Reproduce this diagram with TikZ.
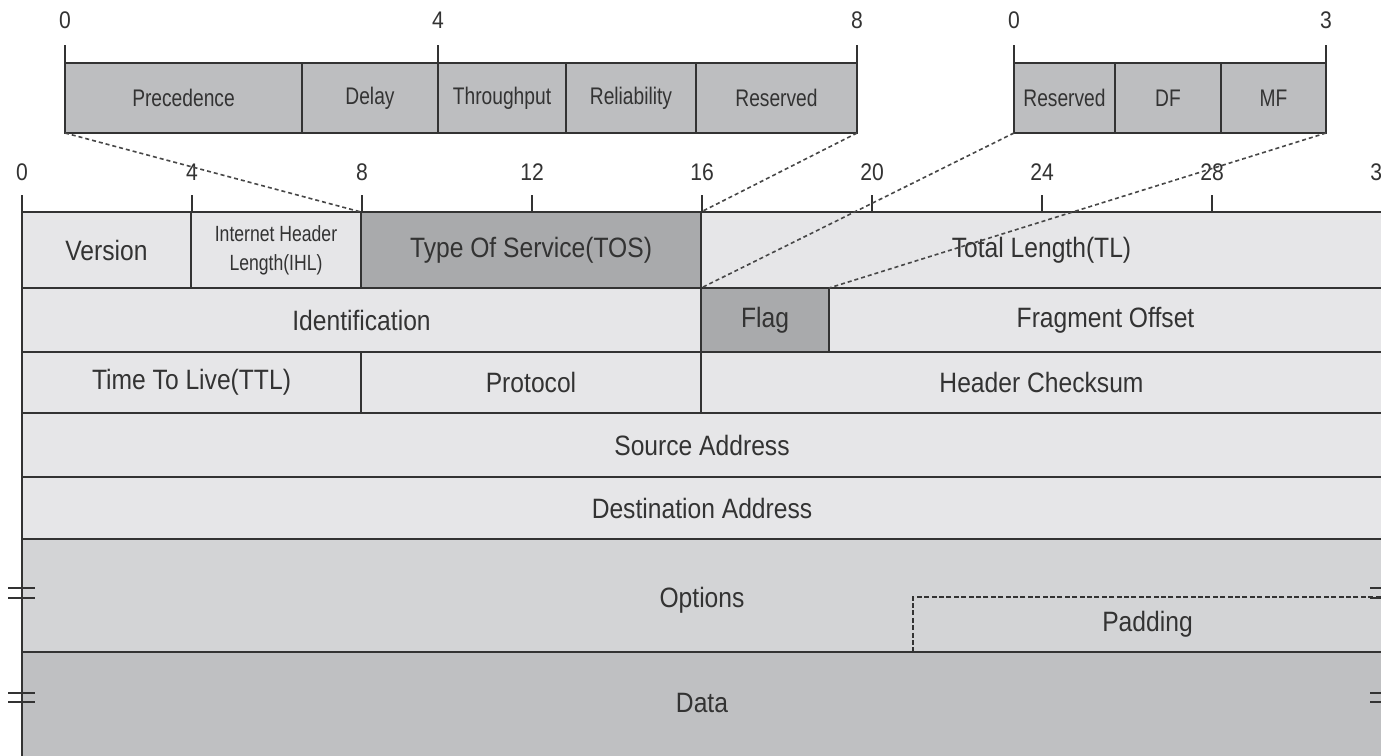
\documentclass[tikz,border=0pt]{standalone}
\usepackage{fontspec}
\setmainfont{Liberation Sans}[FakeStretch=0.88]
\newfontfamily\narrowfont{Liberation Sans}[FakeStretch=0.8]
\definecolor{rowlight}{HTML}{E6E6E8}
\definecolor{celldark}{HTML}{A9AAAC}
\definecolor{boxgray}{HTML}{BDBEC0}
\definecolor{optgray}{HTML}{D3D4D6}
\definecolor{datagray}{HTML}{BFC0C2}
\definecolor{ink}{HTML}{333333}
% \cellbox{style}{name}{x1}{y1}{x2}{y2}{text}  (coordinates in pixels)
\newcommand\cellbox[7]{\node[#1, minimum width={(#5-#3)*0.5pt},
  minimum height={(#6-#4)*0.5pt}] (#2) at ({(#3+#5)/2},{(#4+#6)/2}) {#7};}
\begin{document}
\begin{tikzpicture}[x=0.5pt,y=-0.5pt,
  cell/.style={draw=ink, line width=0.9pt, inner sep=0pt, outer sep=0pt, text=ink,
    fill=rowlight, font=\fontsize{14}{16}\selectfont},
  darkcell/.style={cell, fill=celldark},
  subcell/.style={cell, fill=boxgray, font=\narrowfont\fontsize{12}{14}\selectfont},
  lbl/.style={text=ink, inner sep=0pt, font=\fontsize{14}{16}\selectfont},
  num/.style={text=ink, inner sep=0pt, font=\fontsize{12}{14}\selectfont},
  tick/.style={draw=ink, line width=0.9pt},
  zoomline/.style={draw=ink!90, line width=0.8pt, dash pattern=on 2pt off 1.5pt},
  padline/.style={draw=ink, line width=0.7pt, dash pattern=on 2.5pt off 1.2pt},
  breakmark/.style={draw=ink, line width=0.9pt}]
\useasboundingbox (0,0) rectangle (1381,755);
\fill[white] (0,0) rectangle (1381,755);

% ---- main header rows ----
\cellbox{cell}{ver}{22}{212}{191}{288}{Version}
\cellbox{cell,align=center,font=\narrowfont\fontsize{11}{14.5}\selectfont}{ihl}{191}{212}{361}{288}{Internet Header\\Length(IHL)}
\cellbox{darkcell}{tos}{361}{212}{701}{288}{Type Of Service(TOS)}
\cellbox{cell}{tl}{701}{212}{1382}{288}{Total Length(TL)}

\cellbox{cell}{ident}{22}{288}{701}{352}{Identification}
\cellbox{darkcell}{flag}{701}{288}{829}{352}{Flag}
\cellbox{cell}{frag}{829}{288}{1382}{352}{Fragment Offset}

\cellbox{cell}{ttl}{22}{352}{361}{413}{Time To Live(TTL)}
\cellbox{cell}{proto}{361}{352}{701}{413}{Protocol}
\cellbox{cell}{hcs}{701}{352}{1382}{413}{Header Checksum}

\cellbox{cell}{src}{22}{413}{1382}{477}{Source Address}
\cellbox{cell}{dst}{22}{477}{1382}{539}{Destination Address}

\cellbox{cell,fill=optgray}{opt}{22}{539}{1382}{652}{}
\node[lbl] (optlabel) at (702,600) {Options};
\cellbox{cell,fill=none,padline}{pad}{913}{597}{1382}{652}{Padding}

\cellbox{cell,fill=datagray}{data}{22}{652}{1382}{770}{}
\node[lbl] (datalabel) at (702,703) {Data};

% ---- bit scale of the header ----
\foreach \k in {0,4,...,32} {
  \draw[tick] (22+42.5*\k,195) -- (22+42.5*\k,212);
  \node[num] (n\k) at (22+42.5*\k,172) {\k};
}

% ---- TOS breakout ----
\cellbox{subcell}{prec}{65}{63}{302}{133}{Precedence}
\cellbox{subcell}{delay}{302}{63}{438}{133}{Delay}
\cellbox{subcell}{thr}{438}{63}{566}{133}{Throughput}
\cellbox{subcell}{rel}{566}{63}{696}{133}{Reliability}
\cellbox{subcell}{res}{696}{63}{857}{133}{Reserved}
\draw[tick] (prec.north west) -- ++(0,-18);
\draw[tick] (thr.north west) -- ++(0,-18);
\draw[tick] (res.north east) -- ++(0,-18);
\node[num] (t0) at (65,20) {0};
\node[num] (t4) at (438,20) {4};
\node[num] (t8) at (857,20) {8};

% ---- Flag breakout ----
\cellbox{subcell}{fres}{1014}{63}{1115}{133}{Reserved}
\cellbox{subcell}{df}{1115}{63}{1221}{133}{DF}
\cellbox{subcell}{mf}{1221}{63}{1326}{133}{MF}
\draw[tick] (fres.north west) -- ++(0,-18);
\draw[tick] (mf.north east) -- ++(0,-18);
\node[num] (f0) at (1014,20) {0};
\node[num] (f3) at (1326,20) {3};

% ---- zoom connectors ----
\draw[zoomline] (prec.south west) -- (tos.north west);
\draw[zoomline] (res.south east) -- (tos.north east);
\draw[zoomline] (fres.south west) -- (flag.north west);
\draw[zoomline] (mf.south east) -- (flag.north east);

% ---- break marks ----
\foreach \y in {588,598,693,702} {
  \draw[breakmark] (8,\y) -- (35,\y);
  \draw[breakmark] (1370,\y) -- (1395,\y);
}
\end{tikzpicture}
\end{document}
